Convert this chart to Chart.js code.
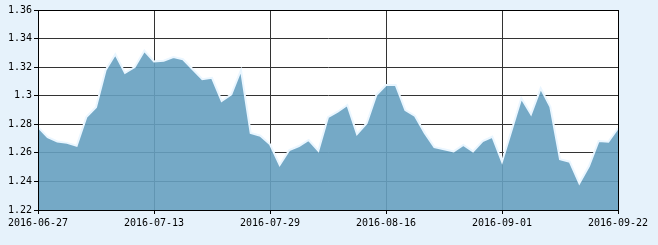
<!DOCTYPE html>
<html>
<head>
<meta charset="utf-8">
<script src="https://cdn.jsdelivr.net/npm/chart.js@4/dist/chart.umd.min.js"></script>
<style>
  html, body { margin: 0; padding: 0; background: #e6f2fb; }
  #wrap { width: 658px; height: 245px; position: relative; }
</style>
</head>
<body>
<div id="wrap"><canvas id="c" width="658" height="245"></canvas></div>
<script>
const dates = [
  '2016-06-27','2016-06-28','2016-06-29','2016-06-30','2016-07-01','2016-07-04','2016-07-05','2016-07-06','2016-07-07','2016-07-08','2016-07-11','2016-07-12','2016-07-13',
  '2016-07-14','2016-07-15','2016-07-18','2016-07-19','2016-07-20','2016-07-21','2016-07-22','2016-07-25','2016-07-26','2016-07-27','2016-07-28','2016-07-29',
  '2016-08-01','2016-08-02','2016-08-03','2016-08-04','2016-08-05','2016-08-08','2016-08-09','2016-08-10','2016-08-11','2016-08-12','2016-08-15','2016-08-16',
  '2016-08-17','2016-08-18','2016-08-19','2016-08-22','2016-08-23','2016-08-24','2016-08-25','2016-08-26','2016-08-29','2016-08-30','2016-08-31','2016-09-01',
  '2016-09-02','2016-09-06','2016-09-07','2016-09-08','2016-09-09','2016-09-12','2016-09-13','2016-09-14','2016-09-19','2016-09-20','2016-09-21','2016-09-22'
];
const values = [
  1.278, 1.271, 1.268, 1.267, 1.265, 1.285, 1.292, 1.318, 1.329, 1.316, 1.320, 1.3315, 1.324,
  1.3245, 1.327, 1.3255, 1.3185, 1.3115, 1.3125, 1.2963, 1.301, 1.318, 1.274, 1.272, 1.266,
  1.2515, 1.262, 1.2648, 1.269, 1.2615, 1.285, 1.2888, 1.2935, 1.2732, 1.2807, 1.3005, 1.3075,
  1.3075, 1.290, 1.2858, 1.274, 1.264, 1.2625, 1.261, 1.2655, 1.261, 1.2683, 1.2713, 1.2538,
  1.276, 1.2982, 1.287, 1.3052, 1.2923, 1.2555, 1.2538, 1.2387, 1.2508, 1.2683, 1.2678, 1.2772
];
const xTickLabels = ['2016-06-27','2016-07-13','2016-07-29','2016-08-16','2016-09-01','2016-09-22'];
const yMin = 1.22, yMax = 1.36, yStep = 0.02;

const areaBg = {
  id: 'areaBg',
  beforeDraw(chart) {
    const {ctx, chartArea: a} = chart;
    ctx.save();
    ctx.fillStyle = '#ffffff';
    ctx.fillRect(a.left, a.top, a.right - a.left, a.bottom - a.top);
    ctx.restore();
  },
  afterDatasetsDraw(chart) {
    const {ctx, chartArea: a} = chart;
    ctx.save();
    ctx.strokeStyle = '#000000';
    ctx.lineWidth = 1;
    ctx.strokeRect(Math.round(a.left) + 0.5, Math.round(a.top) + 0.5,
                   Math.round(a.right - a.left), Math.round(a.bottom - a.top));
    ctx.restore();
  }
};

new Chart(document.getElementById('c'), {
  type: 'line',
  data: {
    labels: dates,
    datasets: [{
      data: values,
      borderColor: '#eaf6ff',
      borderWidth: 2,
      backgroundColor: 'rgba(102,160,192,0.9)',
      fill: 'start',
      tension: 0,
      pointRadius: 0
    }]
  },
  plugins: [areaBg],
  options: {
    responsive: false,
    animation: false,
    devicePixelRatio: 1,
    layout: { padding: { top: 10, right: 40, left: 0, bottom: 0 } },
    plugins: { legend: { display: false }, tooltip: { enabled: false } },
    scales: {
      x: {
        type: 'category',
        offset: false,
        afterFit(s) { s.height = 35; },
        grid: { color: '#333333', lineWidth: 1, tickLength: 4, drawTicks: true, tickColor: '#000' },
        border: { color: '#000', width: 1 },
        ticks: {
          autoSkip: false,
          maxRotation: 0,
          padding: 3,
          color: '#000',
          font: { family: 'DejaVu Sans Mono', size: 10 },
          callback(v, i) {
            const l = dates[i];
            return xTickLabels.includes(l) ? l : null;
          }
        }
      },
      y: {
        min: yMin,
        max: yMax,
        afterFit(s) { s.width = 38; },
        grid: { color: '#333333', lineWidth: 1, tickLength: 4, tickColor: '#000' },
        border: { color: '#000', width: 1 },
        ticks: {
          stepSize: yStep,
          padding: 2,
          color: '#000',
          font: { family: 'DejaVu Sans Mono', size: 10 },
          callback(v) { return String(Number(v.toFixed(2))); }
        }
      }
    }
  }
});
</script>
</body>
</html>
